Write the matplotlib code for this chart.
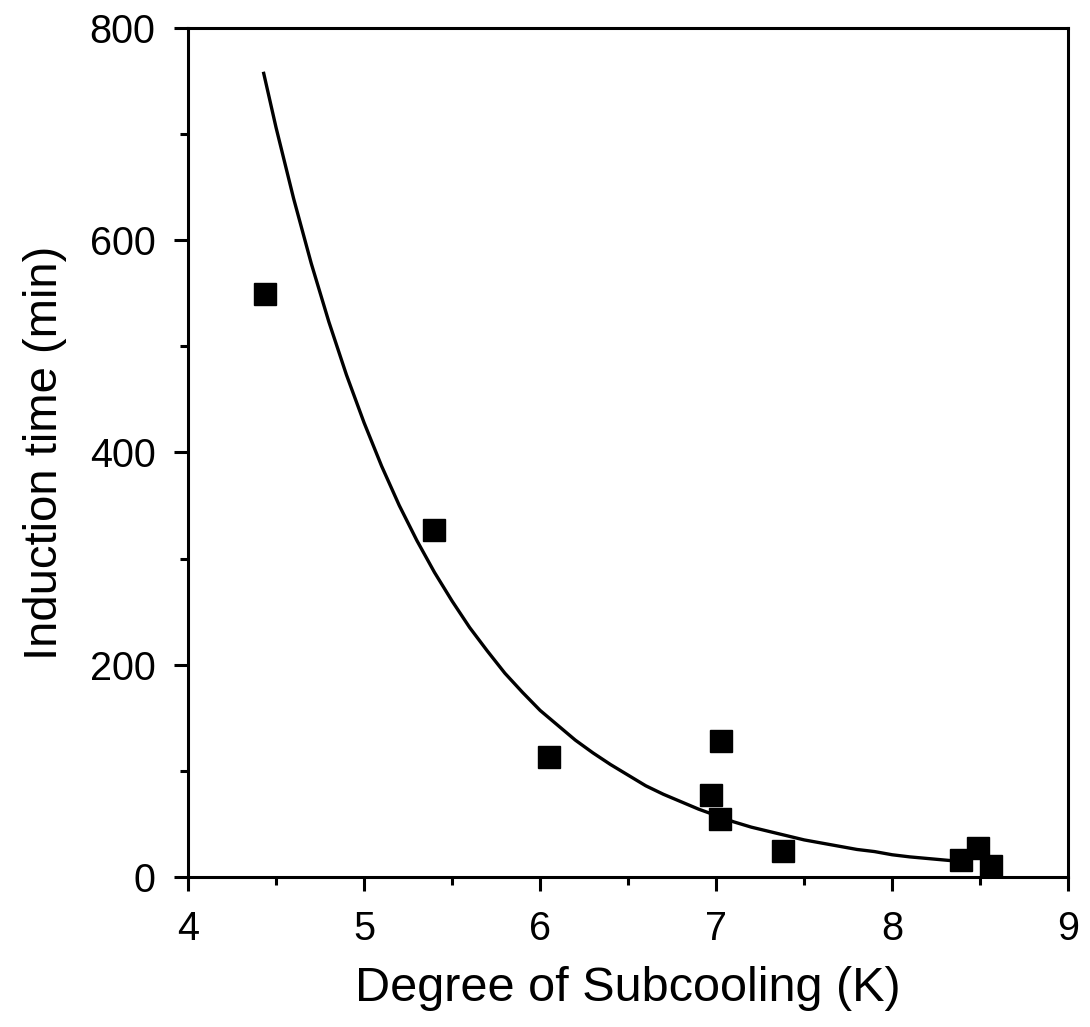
import numpy as np
import matplotlib
matplotlib.use("Agg")
import matplotlib.pyplot as plt
from matplotlib.ticker import MultipleLocator

# measured points (subcooling K, induction time min)
subcooling = [4.44, 5.40, 6.05, 7.03, 6.97, 7.02, 7.38, 8.39, 8.49, 8.56]
induction_time = [549, 327, 113, 128, 77, 55, 25, 16, 27, 10]

# fitted curve
fit_x = [4.43, 4.50, 4.60, 4.70, 4.80, 4.90, 5.00, 5.10, 5.20, 5.30,
         5.40, 5.50, 5.60, 5.70, 5.80, 5.90, 6.00, 6.10, 6.20, 6.30,
         6.40, 6.50, 6.60, 6.70, 6.80, 6.90, 7.00, 7.10, 7.20, 7.30,
         7.40, 7.50, 7.60, 7.70, 7.80, 7.90, 8.00, 8.10, 8.20, 8.30,
         8.40]
fit_y = [757, 706, 639, 578, 523, 473, 428, 387, 350, 317,
         287, 260, 235, 213, 192, 174, 157, 143, 129, 117,
         106, 96, 86, 78, 71, 64, 58, 52, 47, 43,
         39, 35, 32, 29, 26, 24, 21, 19, 17.5, 16,
         14.5]

plt.rcParams['font.family'] = ['Liberation Sans', 'DejaVu Sans']

fig = plt.figure(figsize=(10.9, 10.27), dpi=100)
ax = fig.add_axes([0.1725, 0.146, 0.8075, 0.827])

ax.plot(fit_x, fit_y, color="black", lw=2.4, solid_joinstyle="round")
ax.plot(subcooling, induction_time, linestyle="none", marker="s",
        markersize=16.5, color="black")

ax.set_xlim(4, 9)
ax.set_ylim(0, 800)
ax.xaxis.set_major_locator(MultipleLocator(1))
ax.xaxis.set_minor_locator(MultipleLocator(0.5))
ax.yaxis.set_major_locator(MultipleLocator(200))
ax.yaxis.set_minor_locator(MultipleLocator(100))

for sp in ax.spines.values():
    sp.set_linewidth(2.2)
ax.tick_params(which="major", direction="out", length=10, width=2.2,
               labelsize=28.5, pad=13.5)
ax.tick_params(which="minor", direction="out", length=5.5, width=2.2)

ax.set_xlabel("Degree of Subcooling (K)", fontsize=35, labelpad=13)
ax.set_ylabel("Induction time (min)", fontsize=34, labelpad=16)

fig.savefig("out.png", dpi=100)
